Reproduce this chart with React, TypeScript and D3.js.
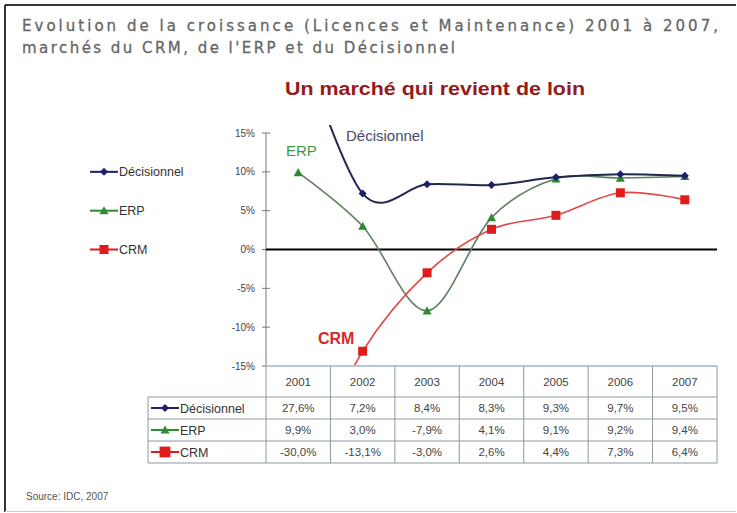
import * as d3 from "d3";

const years = ["2001", "2002", "2003", "2004", "2005", "2006", "2007"];
const seriesNames = ["Décisionnel", "ERP", "CRM"];
const decisionnel = [27.6, 7.2, 8.4, 8.3, 9.3, 9.7, 9.5];
const erp = [9.9, 3.0, -7.9, 4.1, 9.1, 9.2, 9.4];
const crm = [-30.0, -13.1, -3.0, 2.6, 4.4, 7.3, 6.4];
const yTicks = [15, 10, 5, 0, -5, -10, -15];

const colors = { "Décisionnel": "#1c1f6b", ERP: "#2e8b32", CRM: "#e01b1b" };
const lineColors = { "Décisionnel": "#23264f", ERP: "#5f7f5f", CRM: "#e04848" };

const W = 737;
const H = 513;
const left = 266;
const right = 717;
const top = 133;
const bottom = 366;

const fmt = (v: number) => v.toFixed(1).replace(".", ",") + "%";

function Marker({ name, x, y, s = 1 }: { name: string; x: number; y: number; s?: number }) {
  const c = (colors as any)[name];
  if (name === "Décisionnel") {
    const r = 4 * s;
    return <path d={`M${x},${y - r}L${x + r},${y}L${x},${y + r}L${x - r},${y}Z`} fill={c} />;
  }
  if (name === "ERP") {
    const r = 4.5 * s;
    return <path d={`M${x},${y - r}L${x + r},${y + r * 0.8}L${x - r},${y + r * 0.8}Z`} fill={c} />;
  }
  const r = 4.5 * s;
  return <rect x={x - r} y={y - r} width={2 * r} height={2 * r} fill={c} />;
}

export default function App() {
  const x = d3.scaleBand().domain(years).range([left, right]);
  const y = d3.scaleLinear().domain([-15, 15]).range([bottom, top]);
  const cx = (yr: string) => (x(yr) as number) + x.bandwidth() / 2;

  // smoothed lines like the spreadsheet original
  const line = d3
    .line<number>()
    .x((_, i) => cx(years[i]))
    .y((d) => y(d))
    .curve(d3.curveCardinal.tension(0));

  const data: [string, number[]][] = [
    ["ERP", erp],
    ["CRM", crm],
    ["Décisionnel", decisionnel],
  ];

  const rowTop = 397;
  const rowH = 22;
  const tableLeft = 148;

  return (
    <svg width={W} height={H} style={{ position: "absolute", left: 0, top: 0 }}>
      <rect width={W} height={H} fill="#fff" />
      {/* frame */}
      <line x1={5} y1={5} x2={736} y2={5} stroke="#333" strokeWidth={2} />
      <line x1={5} y1={5} x2={5} y2={512} stroke="#333" strokeWidth={2} />
      <line x1={5} y1={511.5} x2={736} y2={511.5} stroke="#ccc" strokeWidth={1} />

      {/* titles */}
      <g fontFamily="DejaVu Sans" fontSize={15} fill="#666" stroke="#666" strokeWidth={0.3}>
        <text x={22} y={31} textLength={696} lengthAdjust="spacing">
          Evolution de la croissance (Licences et Maintenance) 2001 à 2007,
        </text>
        <text x={22} y={53} textLength={433} lengthAdjust="spacing">
          marchés du CRM, de l'ERP et du Décisionnel
        </text>
      </g>
      <text x={285} y={95} fontFamily="Liberation Sans" fontWeight="bold" fontSize={18} fill="#951b1b" textLength={300} lengthAdjust="spacingAndGlyphs">
        Un marché qui revient de loin
      </text>

      {/* left legend */}
      {seriesNames.map((n, i) => {
        const ly = y(10 - i * 5);
        return (
          <g key={n}>
            <line x1={90} x2={118} y1={ly} y2={ly} stroke={(colors as any)[n]} strokeWidth={2} />
            <Marker name={n} x={104} y={ly} />
            <text x={119} y={ly + 4.5} fontFamily="Liberation Sans" fontSize={12.5} fill="#333">
              {n}
            </text>
          </g>
        );
      })}

      {/* y axis */}
      <line x1={left} x2={left} y1={top} y2={bottom} stroke="#777" strokeWidth={1} />
      {yTicks.map((t) => (
        <g key={t}>
          <line x1={left - 4} x2={left + 4} y1={y(t)} y2={y(t)} stroke="#777" />
          <text x={left - 11} y={y(t) + 3.5} textAnchor="end" fontFamily="Liberation Sans" fontSize={10} fill="#444">
            {t + "%"}
          </text>
        </g>
      ))}

      {/* zero line */}
      <line x1={left} x2={right} y1={y(0)} y2={y(0)} stroke="#000" strokeWidth={2} />

      {/* series */}
      <defs>
        <clipPath id="plot">
          <rect x={left} y={top - 8} width={right - left} height={bottom - top + 8} />
        </clipPath>
      </defs>
      <g clipPath="url(#plot)">
        {data.map(([n, vals]) => (
          <path key={n} d={line(vals) || ""} fill="none" stroke={(lineColors as any)[n]} strokeWidth={n === "Décisionnel" ? 2 : 1.6} />
        ))}
        {data.map(([n, vals]) =>
          vals.map((v, i) =>
            v >= -15 && v <= 15 ? <Marker key={n + i} name={n} x={cx(years[i])} y={y(v)} /> : null
          )
        )}
      </g>

      {/* inline series labels */}
      <text x={346} y={141} fontFamily="Liberation Sans" fontSize={15} fill="#4a4a66">Décisionnel</text>
      <text x={286} y={156} fontFamily="Liberation Sans" fontSize={15} fill="#3c9a3c">ERP</text>
      <text x={318} y={344} fontFamily="Liberation Sans" fontWeight="bold" fontSize={16} fill="#d42a2a">CRM</text>

      {/* table */}
      <g stroke="#8c9aa0" strokeWidth={1} fill="none">
        <line x1={left} x2={right} y1={bottom} y2={bottom} stroke="#b8c8d0" strokeWidth={2} />
        <line x1={tableLeft} x2={right} y1={rowTop} y2={rowTop} />
        {seriesNames.map((_, i) => (
          <line key={i} x1={tableLeft} x2={right} y1={rowTop + rowH * (i + 1)} y2={rowTop + rowH * (i + 1)} />
        ))}
        <line x1={tableLeft} x2={tableLeft} y1={rowTop} y2={rowTop + rowH * 3} />
        {years.map((yr) => (
          <line key={yr} x1={x(yr) as number} x2={x(yr) as number} y1={bottom} y2={rowTop + rowH * 3} />
        ))}
        <line x1={right} x2={right} y1={bottom} y2={rowTop + rowH * 3} />
      </g>
      <g fontFamily="Liberation Sans" fontSize={11.5} fill="#444" textAnchor="middle">
        {years.map((yr) => (
          <text key={yr} x={cx(yr)} y={(bottom + rowTop) / 2 + 4}>
            {yr}
          </text>
        ))}
      </g>
      {seriesNames.map((n, r) => {
        const vals = n === "Décisionnel" ? decisionnel : n === "ERP" ? erp : crm;
        const ry = rowTop + rowH * r + rowH / 2;
        return (
          <g key={n}>
            <line x1={151} x2={179} y1={ry} y2={ry} stroke={(colors as any)[n]} strokeWidth={2} />
            <Marker name={n} x={165} y={ry} s={n === "CRM" ? 1.2 : 1} />
            <text x={180} y={ry + 4.5} fontFamily="Liberation Sans" fontSize={12.5} fill="#333">
              {n}
            </text>
            {vals.map((v, i) => (
              <text key={i} x={cx(years[i])} y={ry + 4} textAnchor="middle" fontFamily="Liberation Sans" fontSize={11.5} fill="#444">
                {fmt(v)}
              </text>
            ))}
          </g>
        );
      })}

      <text x={26} y={500} fontFamily="Liberation Sans" fontSize={10} fill="#555">
        Source: IDC, 2007
      </text>
    </svg>
  );
}
